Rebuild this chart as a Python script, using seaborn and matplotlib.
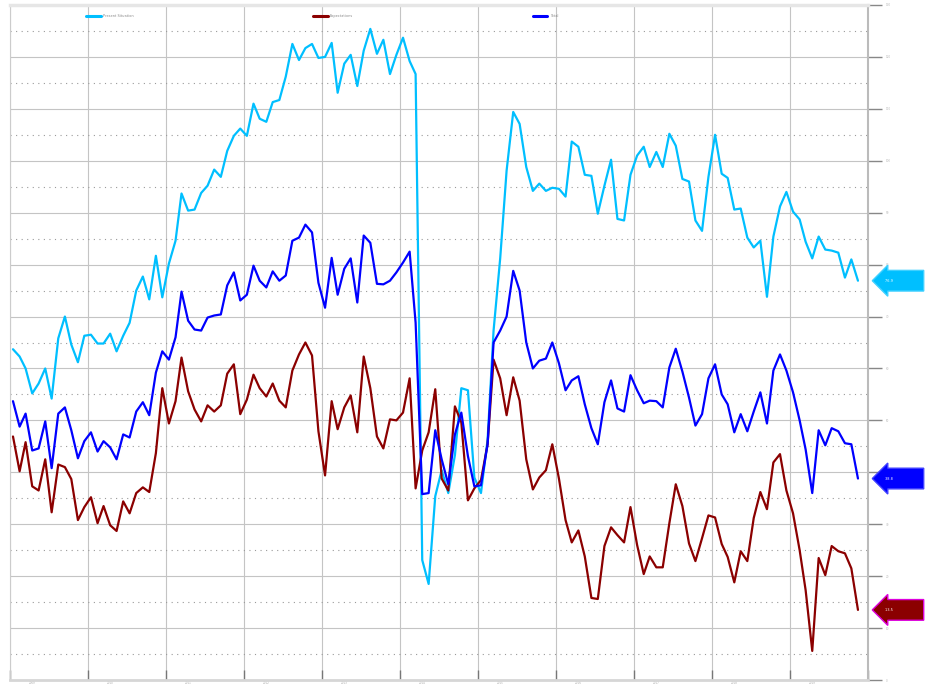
import numpy as np
import pandas as pd
import seaborn as sns
import matplotlib.pyplot as plt
import matplotlib.dates as mdates
from matplotlib.ticker import MultipleLocator, NullFormatter
from matplotlib.lines import Line2D

# monthly series
present = [
    63.7, 62.3, 60.0, 55.2, 57.1, 60.0, 54.2, 65.8, 70.0, 64.6,
    61.2, 66.3, 66.5, 64.8, 64.8, 66.7, 63.3, 66.3, 68.8, 75.0,
    77.7, 73.3, 81.7, 73.7, 80.2, 84.6, 93.7, 90.4, 90.6, 93.8,
    95.2, 98.3, 96.9, 101.9, 104.8, 106.2, 104.8, 111.0, 108.1, 107.5,
    111.3, 111.7, 116.2, 122.5, 119.4, 121.7, 122.5, 119.8, 120.0, 122.7,
    113.1, 118.7, 120.4, 114.4, 121.2, 125.4, 120.6, 123.3, 116.7, 120.4,
    123.7, 119.2, 116.7, 23.1, 18.5, 35.4, 40.4, 36.0, 43.3, 56.2,
    55.8, 39.0, 36.0, 46.3, 67.3, 81.2, 98.1, 109.4, 107.1, 98.8,
    94.2, 95.6, 94.2, 94.8, 94.6, 93.1, 103.7, 102.7, 97.3, 97.1,
    89.8, 95.2, 100.2, 88.8, 88.5, 97.3, 101.0, 102.7, 98.8, 101.7,
    98.8, 105.2, 102.9, 96.5, 96.0, 88.5, 86.5, 96.9, 105.0, 97.5,
    96.7, 90.6, 90.8, 85.2, 83.3, 84.6, 73.8, 85.4, 91.2, 94.0,
    90.2, 88.7, 84.4, 81.2, 85.4, 82.9, 82.7, 82.3, 77.5, 81.0,
    76.9,
]
expectations = [
    46.9, 40.2, 45.8, 37.3, 36.5, 42.5, 32.3, 41.5, 41.0, 38.7,
    30.8, 33.3, 35.2, 30.2, 33.5, 29.8, 28.7, 34.4, 32.1, 36.0,
    37.1, 36.2, 43.7, 56.2, 49.4, 53.7, 62.1, 55.6, 52.1, 49.8,
    52.9, 51.7, 52.9, 59.0, 60.8, 51.2, 54.0, 58.8, 56.2, 54.6,
    57.1, 53.8, 52.5, 59.6, 62.7, 65.0, 62.5, 47.9, 39.4, 53.7,
    48.3, 52.5, 54.8, 47.7, 62.3, 56.2, 46.9, 44.6, 50.2, 50.0,
    51.5, 58.1, 36.9, 44.2, 47.7, 56.0, 38.8, 36.5, 52.7, 49.6,
    34.6, 36.9, 38.5, 45.4, 61.7, 58.1, 51.0, 58.3, 53.8, 42.5,
    36.7, 39.0, 40.4, 45.4, 38.8, 30.8, 26.5, 28.8, 23.8, 15.8,
    15.6, 25.8, 29.4, 27.9, 26.5, 33.3, 26.0, 20.4, 23.8, 21.7,
    21.7, 30.2, 37.7, 33.5, 26.3, 22.9, 27.3, 31.7, 31.3, 26.2,
    23.7, 18.8, 24.8, 22.9, 31.2, 36.2, 32.9, 41.9, 43.5, 36.5,
    32.1, 25.0, 17.3, 5.6, 23.5, 20.2, 25.8, 24.8, 24.4, 21.5,
    13.5,
]
total = [
    53.7, 48.8, 51.3, 44.2, 44.6, 49.8, 40.8, 51.3, 52.5, 48.1,
    42.7, 46.0, 47.7, 44.0, 46.0, 44.8, 42.5, 47.3, 46.7, 51.7,
    53.5, 51.0, 59.2, 63.3, 61.7, 66.0, 74.8, 69.2, 67.5, 67.3,
    69.8, 70.2, 70.4, 76.0, 78.5, 73.1, 74.2, 79.8, 76.9, 75.6,
    78.7, 76.9, 77.9, 84.6, 85.2, 87.7, 86.2, 76.5, 71.7, 81.3,
    74.2, 79.2, 81.2, 72.7, 85.6, 84.2, 76.3, 76.2, 76.9, 78.5,
    80.4, 82.5, 68.8, 35.8, 36.0, 48.1, 42.5, 37.7, 47.3, 51.5,
    43.1, 37.3, 37.5, 45.4, 65.0, 67.3, 70.0, 78.8, 75.0, 65.0,
    60.0, 61.5, 61.9, 65.0, 61.0, 55.8, 57.7, 58.5, 53.1, 48.5,
    45.4, 53.5, 57.7, 52.3, 51.7, 58.7, 55.8, 53.3, 53.8, 53.7,
    52.5, 60.2, 63.8, 59.4, 54.4, 49.0, 51.2, 58.1, 60.8, 55.0,
    53.1, 47.7, 51.2, 47.9, 51.7, 55.4, 49.4, 59.6, 62.7, 59.6,
    55.4, 50.0, 44.4, 36.0, 48.1, 45.2, 48.5, 47.9, 45.6, 45.4,
    38.8,
]

names = ['Present Situation', 'Expectations', 'Total']
colors = ['#00BFFF', '#8B0000', '#0000FF']
edges = ['#40D0FF', '#DD00DD', '#4040FF']

dates = pd.date_range('2009-01-01', periods=len(present), freq='MS') + pd.Timedelta(days=14)
df = pd.DataFrame({'date': dates, names[0]: present, names[1]: expectations, names[2]: total})
long = df.melt(id_vars='date', var_name='series', value_name='value')

sns.set_style('white')
fig = plt.figure(figsize=(9.35, 6.88), dpi=100)
ax = fig.add_axes([10 / 935, 8 / 688, 858 / 935, 675 / 688])

sns.lineplot(data=long, x='date', y='value', hue='series', hue_order=names,
             palette=dict(zip(names, colors)), linewidth=1.6, legend=False, ax=ax)

ax.set_xlim(pd.Timestamp('2009-01-01'), pd.Timestamp('2020-01-01'))
ax.set_ylim(0, 130)
ax.set_xlabel('')
ax.set_ylabel('')

# y axis on the right
ax.yaxis.tick_right()
ax.yaxis.set_major_locator(MultipleLocator(10))
ax.yaxis.set_minor_locator(MultipleLocator(5))
ax.tick_params(axis='y', which='major', right=True, left=False, length=10, width=1,
               color='#888888', labelsize=2, labelcolor='#bbbbbb', pad=3)
ax.tick_params(axis='y', which='minor', length=0)

# years on x
ax.xaxis.set_major_locator(mdates.YearLocator())
ax.xaxis.set_major_formatter(NullFormatter())
ax.xaxis.set_minor_locator(mdates.MonthLocator(bymonth=4, bymonthday=15))
ax.xaxis.set_minor_formatter(mdates.DateFormatter('%Y'))
ax.tick_params(axis='x', which='major', bottom=True, direction='in', length=7,
               width=1, color='#777777')
ax.tick_params(axis='x', which='minor', length=0, labelsize=2, labelcolor='#aaaaaa', pad=1)

ax.grid(which='major', axis='both', color='#c4c4c4', linewidth=0.8)
ax.grid(which='minor', axis='y', color='#9a9a9a', linewidth=0.8, linestyle=(0, (1, 4)))
ax.set_axisbelow(True)

for side in ['left', 'top', 'bottom', 'right']:
    ax.spines[side].set_color('#cccccc')
ax.spines['top'].set_linewidth(2.5)
ax.spines['top'].set_color('#e6e6e6')
ax.spines['bottom'].set_linewidth(2)
ax.spines['bottom'].set_color('#d6d6d6')
ax.spines['right'].set_linewidth(1.5)
ax.spines['right'].set_color('#bbbbbb')

# legend across the top
handles = [Line2D([], [], color=c, lw=2.2) for c in colors]
ax.legend(handles, names, ncol=3, loc='center left', bbox_to_anchor=(0.0886, 0.9837, 0.55, 0),
          mode='expand', fontsize=2.5, handlelength=4.3, handletextpad=0.6, frameon=False,
          borderaxespad=0, borderpad=0, labelcolor='#888888')

# last-value flags on the right
for series, c, e in zip([present, expectations, total], colors, edges):
    v = series[-1]
    ax.annotate(f"{v:.1f}" + " " * 20, xy=(1.0, v), xycoords=('axes fraction', 'data'),
                xytext=(17, 0), textcoords='offset pixels', ha='left', va='center',
                fontsize=2.5, color='white', annotation_clip=False,
                bbox=dict(boxstyle='larrow,pad=2.4', fc=c, ec=e, lw=1))

fig.savefig('out.png', dpi=100)
